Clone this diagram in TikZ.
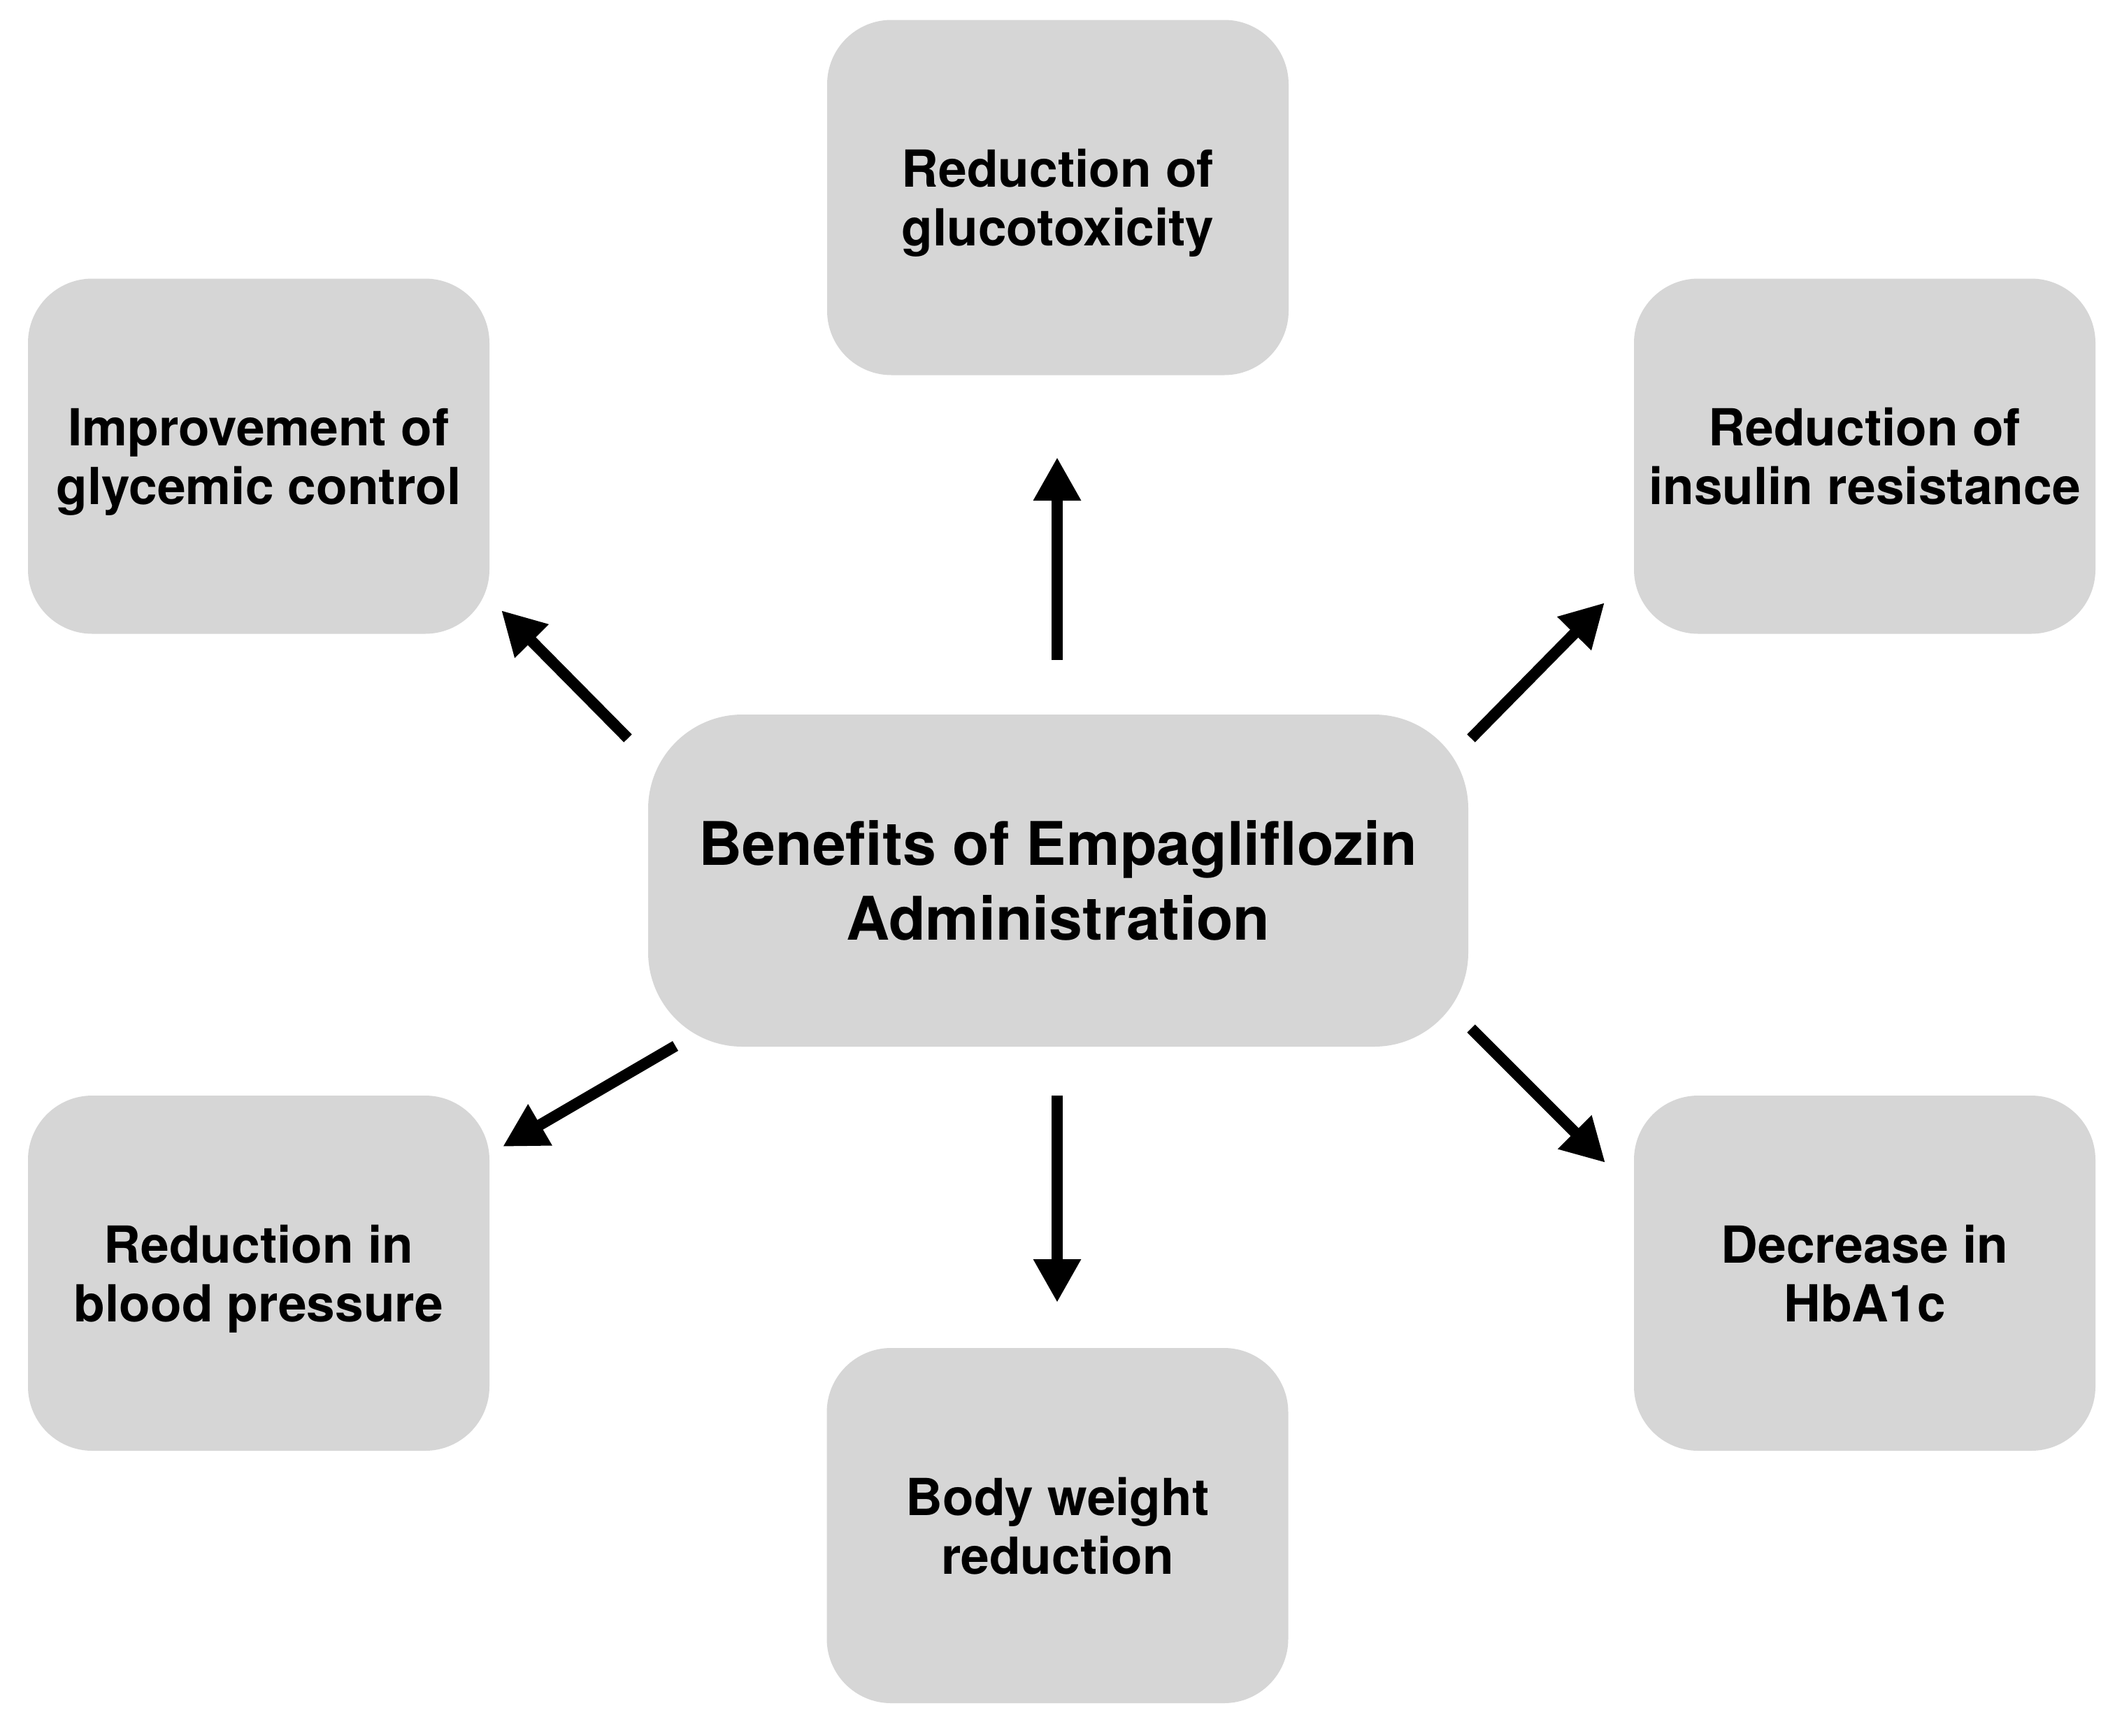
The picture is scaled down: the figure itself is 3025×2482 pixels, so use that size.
\documentclass[tikz,border=0pt]{standalone}
\usepackage{fontspec}
\setmainfont{TeX Gyre Heros}
\usetikzlibrary{arrows.meta}
\definecolor{boxgray}{RGB}{214,214,214}
\begin{document}
\begin{tikzpicture}[x=1pt,y=-1pt,
  benefit/.style={fill=boxgray, rounded corners=92pt, minimum width=660pt,
    minimum height=508pt, inner sep=0pt, align=center, text depth=0pt,
    font=\bfseries\fontsize{73}{84}\selectfont},
  hub/.style={fill=boxgray, rounded corners=135pt, minimum width=1173pt,
    minimum height=475pt, inner sep=0pt, align=center,
    font=\bfseries\fontsize{86}{107}\selectfont},
  arr/.style={line width=16pt, -{Triangle[length=62pt,width=64pt]}}]
\useasboundingbox (0,0) rectangle (3025,2482);
\fill[white] (0,0) rectangle (3025,2482);

\node[hub] (hub) at (1513.5,1259.5) {Benefits of Empagliflozin\\Administration};
\node[benefit] (gluco) at (1513,282.5) {Reduction of\\glucotoxicity};
\node[benefit] (glyc) at (370,652.5) {Improvement of\\glycemic control};
\node[benefit] (insul) at (2667,652.5) {Reduction of\\insulin resistance};
\node[benefit] (bp) at (370,1821) {Reduction in\\blood pressure};
\node[benefit] (hba) at (2667,1821) {Decrease in\\HbA1c};
\node[benefit] (bw) at (1512.5,2182) {Body weight\\reduction};

\coordinate (upS) at (1512,944);   \coordinate (upE) at (1512,654);
\coordinate (dnS) at (1512,1567);  \coordinate (dnE) at (1512,1863);
\coordinate (ulS) at (898,1056);   \coordinate (ulE) at (717,873);
\coordinate (urS) at (2104,1056);  \coordinate (urE) at (2295,862);
\coordinate (llS) at (966,1496);   \coordinate (llE) at (719,1640);
\coordinate (lrS) at (2104,1471);  \coordinate (lrE) at (2296,1663);

\draw[arr] (upS) -- (upE);
\draw[arr] (dnS) -- (dnE);
\draw[arr] (ulS) -- (ulE);
\draw[arr] (urS) -- (urE);
\draw[arr] (llS) -- (llE);
\draw[arr] (lrS) -- (lrE);
\end{tikzpicture}
\end{document}
